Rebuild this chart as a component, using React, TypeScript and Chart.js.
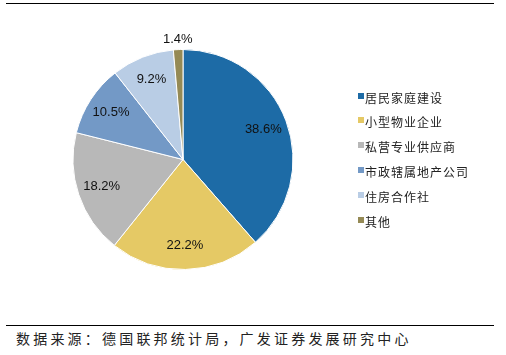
import React, { useEffect, useRef } from "react";
import { Chart, registerables } from "chart.js";

Chart.register(...registerables);

const categories = ["居民家庭建设", "小型物业企业", "私营专业供应商", "市政辖属地产公司", "住房合作社", "其他"];
const shares = [38.6, 22.2, 18.2, 10.5, 9.2, 1.4];
const colors = ["#1D6BA6", "#E5C965", "#B8B8B8", "#7399C6", "#B9CDE5", "#958A55"];
const sourceText = "数据来源：德国联邦统计局，广发证券发展研究中心";

const pctLabels = {
  id: "pctLabels",
  afterDatasetsDraw(chart: any) {
    const ctx = chart.ctx;
    const meta = chart.getDatasetMeta(0);
    ctx.save();
    ctx.font = '13px "Liberation Sans", Arial, sans-serif';
    ctx.fillStyle = "#111";
    ctx.textAlign = "center";
    ctx.textBaseline = "middle";
    meta.data.forEach((arc: any, i: number) => {
      const p = arc.getProps(["x", "y", "startAngle", "endAngle", "outerRadius"], true);
      const mid = (p.startAngle + p.endAngle) / 2;
      const v = shares[i];
      const r = v < 3 ? p.outerRadius + 10 : p.outerRadius * 0.78;
      ctx.fillText(v.toFixed(1) + "%", p.x + Math.cos(mid) * r, p.y + Math.sin(mid) * r);
    });
    ctx.restore();
  },
};

const sideLegend = {
  id: "sideLegend",
  afterDraw(chart: any) {
    const ctx = chart.ctx;
    const ds = chart.data.datasets[0];
    const labels = chart.data.labels as string[];
    ctx.save();
    ctx.font = '12px "Noto Sans CJK SC", sans-serif';
    (ctx as any).letterSpacing = "1px";
    ctx.textAlign = "left";
    ctx.textBaseline = "middle";
    labels.forEach((lab, i) => {
      const top = Math.round(92.5 + i * 24.8);
      ctx.fillStyle = ds.backgroundColor[i];
      ctx.fillRect(358, top, 6, 6);
      ctx.fillStyle = "#222";
      ctx.fillText(lab, 365, top + 5.8);
    });
    ctx.restore();
  },
};

export default function App() {
  const ref = useRef<HTMLCanvasElement | null>(null);
  useEffect(() => {
    if (!ref.current) return;
    const chart = new Chart(ref.current, {
      type: "pie",
      data: {
        labels: categories,
        datasets: [
          {
            data: shares,
            backgroundColor: colors,
            borderColor: "#ffffff",
            borderWidth: 1,
            radius: 110,
          } as any,
        ],
      },
      options: {
        animation: false,
        responsive: true,
        maintainAspectRatio: false,
        layout: { padding: { left: 30, right: 170, top: 40, bottom: 41 } },
        plugins: {
          legend: { display: false },
          tooltip: { enabled: false },
        },
      },
      plugins: [pctLabels, sideLegend],
    });
    return () => chart.destroy();
  }, []);

  return (
    <div style={{ position: "fixed", left: 0, top: 0, width: 506, height: 355, background: "#fff", overflow: "hidden" }}>
      <div style={{ position: "absolute", left: 6, top: 3, width: 488, height: 1, background: "#000" }} />
      <div style={{ position: "absolute", left: 0, top: 0, width: 506, height: 320 }}>
        <canvas ref={ref} />
      </div>
      <div style={{ position: "absolute", left: 6, top: 325, width: 488, height: 1, background: "#000" }} />
      <div
        style={{
          position: "absolute",
          left: 16,
          top: 331,
          fontFamily: '"Noto Sans CJK SC", sans-serif',
          fontSize: 14,
          lineHeight: "14px",
          letterSpacing: "3.2px",
          color: "#222",
          whiteSpace: "nowrap",
        }}
      >
        {sourceText}
      </div>
    </div>
  );
}
